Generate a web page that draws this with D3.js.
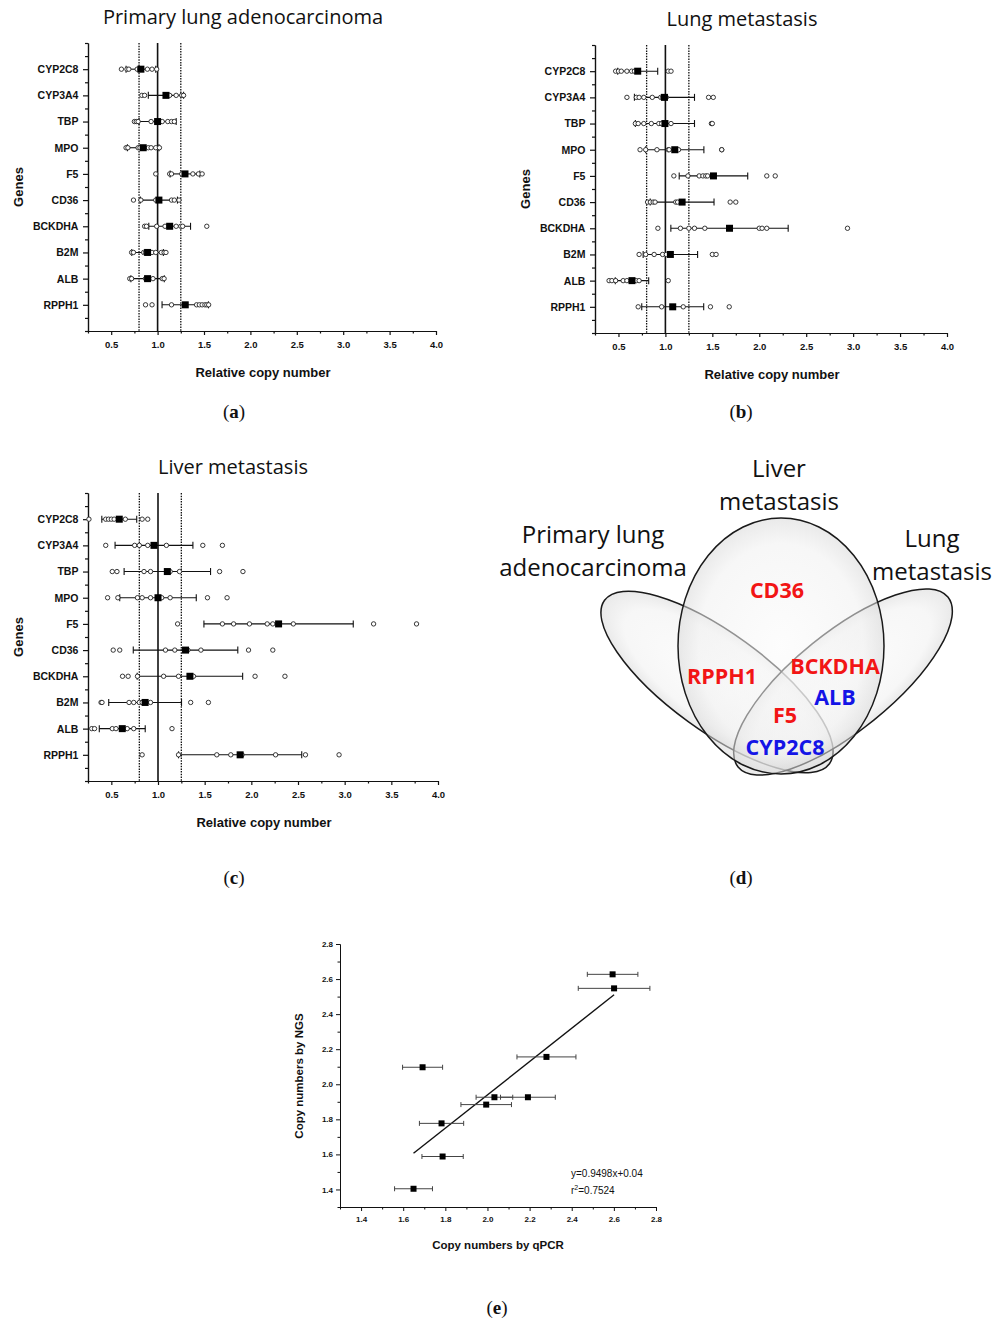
<!DOCTYPE html>
<html>
<head>
<meta charset="utf-8">
<script src="https://cdn.jsdelivr.net/npm/d3@7"></script>
<style>
  body { margin: 0; background: #fff; }
  svg { display: block; }
</style>
</head>
<body>
<svg id="fig" width="1003" height="1319"></svg>
<script>
// ---- data ----
const genes = ["CYP2C8", "CYP3A4", "TBP", "MPO", "F5", "CD36", "BCKDHA", "B2M", "ALB", "RPPH1"]
const copyTicks = [0.5, 1.0, 1.5, 2.0, 2.5, 3.0, 3.5, 4.0]
const thresholds = [0.8, 1.25]

const primaryMean = [0.82, 1.09, 1.0, 0.845, 1.295, 1.014, 1.13, 0.892, 0.892, 1.298]
const primaryErr = [0.16, 0.19, 0.2, 0.17, 0.16, 0.2, 0.225, 0.17, 0.18, 0.25]
const primaryPoints = [
  [0.61, 0.67, 0.69, 0.78, 0.81, 0.89, 0.94, 0.99],
  [0.83, 0.86, 1.13, 1.20, 1.26, 1.28],
  [0.75, 0.77, 0.79, 0.93, 0.99, 1.05, 1.11, 1.15, 1.18],
  [0.66, 0.68, 0.79, 0.81, 0.90, 0.93, 0.98, 1.02],
  [0.98, 1.13, 1.15, 1.26, 1.38, 1.44, 1.48],
  [0.74, 0.82, 0.98, 1.15, 1.18, 1.23],
  [0.86, 0.88, 0.99, 1.08, 1.20, 1.25, 1.27, 1.53],
  [0.72, 0.74, 0.85, 0.87, 0.94, 0.98, 1.04, 1.07, 1.09],
  [0.70, 0.72, 0.87, 0.95, 1.05, 1.07],
  [0.87, 0.94, 1.15, 1.42, 1.45, 1.48, 1.51, 1.53, 1.55]
]

const lungMean = [0.705, 0.99, 0.995, 1.1, 1.512, 1.178, 1.683, 1.053, 0.644, 1.078]
const lungErr = [0.213, 0.32, 0.315, 0.31, 0.365, 0.34, 0.625, 0.29, 0.178, 0.33]
const lungPoints = [
  [0.47, 0.50, 0.53, 0.59, 0.64, 0.67, 1.03, 1.06],
  [0.59, 0.69, 0.72, 0.77, 0.86, 0.95, 0.97, 1.01, 1.46, 1.51],
  [0.68, 0.71, 0.77, 0.85, 0.93, 0.96, 1.06, 1.49, 1.50],
  [0.73, 0.79, 0.91, 1.03, 1.04, 1.12, 1.14, 1.60, 1.60],
  [1.09, 1.24, 1.36, 1.40, 1.43, 1.45, 2.08, 2.17],
  [0.81, 0.84, 0.87, 0.89, 1.11, 1.13, 1.69, 1.75],
  [0.92, 1.16, 1.25, 1.31, 1.42, 2.00, 2.03, 2.08, 2.94],
  [0.72, 0.79, 0.88, 0.97, 1.01, 1.50, 1.54],
  [0.40, 0.43, 0.47, 0.55, 0.59, 0.69, 0.72, 1.03],
  [0.71, 0.96, 1.19, 1.48, 1.68]
]

const liverMean = [0.585, 0.957, 1.1, 1.0, 2.292, 1.295, 1.342, 0.862, 0.617, 1.88]
const liverErr = [0.187, 0.417, 0.463, 0.41, 0.8, 0.56, 0.565, 0.39, 0.246, 0.66]
const liverPoints = [
  [0.26, 0.44, 0.47, 0.50, 0.53, 0.65, 0.83, 0.89],
  [0.44, 0.75, 0.80, 0.89, 1.09, 1.48, 1.69],
  [0.51, 0.56, 0.85, 0.92, 1.13, 1.23, 1.66, 1.91],
  [0.46, 0.57, 0.78, 0.83, 0.92, 1.04, 1.13, 1.53, 1.74],
  [1.21, 1.69, 1.81, 1.98, 2.17, 2.23, 2.45, 3.31, 3.77],
  [0.52, 0.59, 1.08, 1.18, 1.28, 1.32, 1.46, 1.97, 2.23],
  [0.62, 0.68, 0.78, 1.06, 1.22, 1.38, 2.04, 2.36],
  [0.39, 0.40, 0.69, 0.74, 0.80, 0.83, 0.92, 1.35, 1.54],
  [0.29, 0.32, 0.51, 0.55, 0.67, 0.74, 1.15],
  [0.83, 1.22, 1.63, 1.78, 1.90, 2.26, 2.58, 2.94]
]

// venn: which tissue groups each gene falls in, and direction of change
const vennSets = ["Primary lung\nadenocarcinoma", "Liver\nmetastasis", "Lung\nmetastasis"]
const vennGenes = ["CD36", "RPPH1", "BCKDHA", "ALB", "F5", "CYP2C8"]
const vennRegion = ["liver", "primary+liver", "liver+lung", "liver+lung", "all", "all"]
const vennUp = [true, true, true, false, true, false]

// qPCR vs NGS
const qpcr = [1.649, 1.787, 1.782, 1.692, 1.994, 2.033, 2.192, 2.28, 2.601, 2.594]
const qpcrErr = [0.09, 0.098, 0.105, 0.095, 0.12, 0.087, 0.13, 0.14, 0.17, 0.12]
const ngs = [1.404, 1.588, 1.777, 2.097, 1.884, 1.926, 1.926, 2.156, 2.547, 2.627]
const fitSlope = 0.9498
const fitIntercept = 0.04
const fitR2 = 0.7524
const corrTicks = [1.4, 1.6, 1.8, 2.0, 2.2, 2.4, 2.6, 2.8]

// ---- drawing ----
const svg = d3.select("#fig")
const sans = "'Liberation Sans', Arial, sans-serif"
const titleFont = "'Open Sans', 'Noto Sans', sans-serif"

function panelLetter(x, y, letter) {
  let t = svg.append("text")
    .attr("x", x).attr("y", y)
    .attr("text-anchor", "middle")
    .style("font-family", "'Liberation Serif', serif")
    .style("font-size", "19px")
    .style("fill", "#111")
  t.append("tspan").text("(")
  t.append("tspan").style("font-weight", "bold").text(letter)
  t.append("tspan").text(")")
}

function dotPanel(box, title, means, errs, points) {
  let g = svg.append("g")

  let x = d3.scaleLinear().domain([0.25, 4.0]).range([box.left, box.right])
  let y = d3.scaleLinear().domain([0, 11]).range([box.top, box.bottom])

  // reference lines
  g.append("line")
    .attr("x1", x(1)).attr("x2", x(1))
    .attr("y1", box.top).attr("y2", box.bottom)
    .style("stroke", "#111").style("stroke-width", 1.6)
  g.selectAll(".thr")
    .data(thresholds)
    .enter()
    .append("line")
      .attr("x1", d => x(d)).attr("x2", d => x(d))
      .attr("y1", box.top).attr("y2", box.bottom)
      .style("stroke", "#111").style("stroke-width", 1.3)
      .style("stroke-dasharray", "1.5,1.2")

  // axes
  let xMajor = d3.axisBottom(x).tickValues(copyTicks).tickFormat(d3.format(".1f"))
    .tickSize(4).tickSizeOuter(0)
  let xMinor = d3.axisBottom(x).tickValues(d3.range(0.25, 4.01, 0.5)).tickFormat("")
    .tickSize(2.5).tickSizeOuter(0)
  let yMajor = d3.axisLeft(y).tickValues(d3.range(1, 11)).tickFormat(i => genes[i - 1])
    .tickSize(5).tickSizeOuter(0)
  let yMinor = d3.axisLeft(y).tickValues(d3.range(0.5, 11, 1).concat([0, 11])).tickFormat("")
    .tickSize(3).tickSizeOuter(0)

  let gx = g.append("g").attr("transform", `translate(0,${box.bottom})`).call(xMajor)
  g.append("g").attr("transform", `translate(0,${box.bottom})`).call(xMinor)
  let gy = g.append("g").attr("transform", `translate(${box.left},0)`).call(yMajor)
  g.append("g").attr("transform", `translate(${box.left},0)`).call(yMinor)

  g.selectAll(".domain, .tick line").style("stroke", "#111").style("stroke-width", 1.2)
  gx.selectAll("text")
    .attr("dy", "1.05em")
    .style("font-family", sans).style("font-size", "9.5px")
    .style("font-weight", "bold").style("fill", "#111")
  gy.selectAll("text")
    .attr("dx", "-0.15em")
    .style("font-family", sans).style("font-size", "10.5px")
    .style("font-weight", "bold").style("fill", "#111")

  // error bars
  let bars = g.append("g")
    .selectAll("g")
    .data(genes)
    .enter()
    .append("g")
  bars.append("line")
    .attr("x1", (d, i) => x(means[i] - errs[i]))
    .attr("x2", (d, i) => x(means[i] + errs[i]))
    .attr("y1", (d, i) => y(i + 1)).attr("y2", (d, i) => y(i + 1))
    .style("stroke", "#111").style("stroke-width", 1.1)
  bars.selectAll(".cap")
    .data((d, i) => [means[i] - errs[i], means[i] + errs[i]].map(v => ({ v: v, i: i })))
    .enter()
    .append("line")
      .attr("x1", d => x(d.v)).attr("x2", d => x(d.v))
      .attr("y1", d => y(d.i + 1) - 3.5).attr("y2", d => y(d.i + 1) + 3.5)
      .style("stroke", "#111").style("stroke-width", 1.1)

  // individual samples
  let pts = []
  points.forEach((row, i) => row.forEach(v => pts.push({ v: v, i: i })))
  g.append("g")
    .selectAll("circle")
    .data(pts)
    .enter()
    .append("circle")
      .attr("cx", d => x(d.v))
      .attr("cy", d => y(d.i + 1))
      .attr("r", 2.2)
      .style("fill", "#fff")
      .style("stroke", "#222")
      .style("stroke-width", 0.9)

  // means
  g.append("g")
    .selectAll("rect")
    .data(means)
    .enter()
    .append("rect")
      .attr("x", d => x(d) - 3.5)
      .attr("y", (d, i) => y(i + 1) - 3.5)
      .attr("width", 7).attr("height", 7)
      .style("fill", "#000")

  // labels
  g.append("text")
    .attr("x", box.titleX)
    .attr("y", box.top - 19)
    .attr("text-anchor", "middle")
    .style("font-family", titleFont).style("font-size", "20px").style("fill", "#111")
    .text(title)

  g.append("text")
    .attr("transform", `translate(${box.left - 65},${(box.top + box.bottom) / 2}) rotate(-90)`)
    .attr("text-anchor", "middle")
    .style("font-family", sans).style("font-size", "13px")
    .style("font-weight", "bold").style("fill", "#111")
    .text("Genes")

  g.append("text")
    .attr("x", (box.left + box.right) / 2 + 1)
    .attr("y", box.bottom + 46)
    .attr("text-anchor", "middle")
    .style("font-family", sans).style("font-size", "13px")
    .style("font-weight", "bold").style("fill", "#111")
    .text("Relative copy number")
}

dotPanel({ left: 88, right: 436, top: 43, bottom: 331, titleX: 243 }, "Primary lung adenocarcinoma",
  primaryMean, primaryErr, primaryPoints)
dotPanel({ left: 595, right: 947, top: 45, bottom: 333, titleX: 742 }, "Lung metastasis",
  lungMean, lungErr, lungPoints)
dotPanel({ left: 88, right: 438, top: 493, bottom: 781, titleX: 233 }, "Liver metastasis",
  liverMean, liverErr, liverPoints)

panelLetter(234, 418, "a")
panelLetter(741, 418, "b")
panelLetter(234, 884, "c")
panelLetter(741, 884, "d")
panelLetter(497, 1314, "e")

// ---- venn (d) ----
let defs = svg.append("defs")
let grad = defs.append("radialGradient").attr("id", "vennFill")
grad.append("stop").attr("offset", "0%").attr("stop-color", "#fbfbfb")
grad.append("stop").attr("offset", "80%").attr("stop-color", "#f0f0f0")
grad.append("stop").attr("offset", "100%").attr("stop-color", "#d8d8d8")

let venn = svg.append("g")
let shapes = [
  { cx: 717, cy: 682, rx: 139, ry: 49, rot: 36 },
  { cx: 843, cy: 682, rx: 135, ry: 49, rot: -39 },
  { cx: 781, cy: 646, rx: 103, ry: 128, rot: 0 }
]
venn.selectAll("ellipse")
  .data(shapes)
  .enter()
  .append("ellipse")
    .attr("transform", d => `translate(${d.cx},${d.cy}) rotate(${d.rot})`)
    .attr("rx", d => d.rx).attr("ry", d => d.ry)
    .style("fill", "url(#vennFill)")
    .style("fill-opacity", 0.55)
    .style("stroke", "#1a1a1a")
    .style("stroke-width", 1.5)

let setPos = [[593, 543], [779, 477], [932, 547]]
vennSets.forEach((s, k) => {
  let t = venn.append("text")
    .attr("x", setPos[k][0]).attr("y", setPos[k][1])
    .attr("text-anchor", "middle")
    .style("font-family", titleFont).style("font-size", "24px").style("fill", "#111")
  s.split("\n").forEach((line, j) => {
    t.append("tspan").attr("x", setPos[k][0]).attr("dy", j === 0 ? 0 : 33).text(line)
  })
})

let regionPos = {
  "liver": [[777, 598]],
  "primary+liver": [[722, 684]],
  "liver+lung": [[835, 674], [835, 705]],
  "all": [[785, 723], [785, 755]]
}
let regionUsed = {}
venn.selectAll(".vg")
  .data(vennGenes)
  .enter()
  .append("text")
    .attr("x", (d, i) => regionPos[vennRegion[i]][0][0])
    .attr("y", (d, i) => {
      let r = vennRegion[i]
      regionUsed[r] = (regionUsed[r] || 0)
      return regionPos[r][regionUsed[r]++][1]
    })
    .attr("text-anchor", "middle")
    .style("font-family", titleFont).style("font-size", "21.5px")
    .style("font-weight", "bold")
    .style("fill", (d, i) => vennUp[i] ? "#f21515" : "#1414e6")
    .text(d => d)

// ---- qPCR vs NGS (e) ----
let ex = d3.scaleLinear().domain([1.3, 2.8]).range([340, 656])
let ey = d3.scaleLinear().domain([1.3, 2.8]).range([1207, 944])
let ge = svg.append("g")

let exMajor = d3.axisBottom(ex).tickValues(corrTicks).tickFormat(d3.format(".1f")).tickSize(4).tickSizeOuter(0)
let exMinor = d3.axisBottom(ex).tickValues(d3.range(1.3, 2.81, 0.2)).tickFormat("").tickSize(2.5).tickSizeOuter(0)
let eyMajor = d3.axisLeft(ey).tickValues(corrTicks).tickFormat(d3.format(".1f")).tickSize(4).tickSizeOuter(0)
let eyMinor = d3.axisLeft(ey).tickValues(d3.range(1.3, 2.81, 0.2)).tickFormat("").tickSize(2.5).tickSizeOuter(0)

let egx = ge.append("g").attr("transform", "translate(0,1207)").call(exMajor)
ge.append("g").attr("transform", "translate(0,1207)").call(exMinor)
let egy = ge.append("g").attr("transform", "translate(340,0)").call(eyMajor)
ge.append("g").attr("transform", "translate(340,0)").call(eyMinor)
ge.selectAll(".domain, .tick line").style("stroke", "#111").style("stroke-width", 1)
ge.selectAll(".tick text")
  .style("font-family", sans).style("font-size", "8px")
  .style("font-weight", "bold").style("fill", "#111")
egx.selectAll("text").attr("dy", "0.95em")

// fit line over the qPCR range
let fitX = d3.extent(qpcr)
ge.append("line")
  .attr("x1", ex(fitX[0])).attr("y1", ey(fitSlope * fitX[0] + fitIntercept))
  .attr("x2", ex(fitX[1])).attr("y2", ey(fitSlope * fitX[1] + fitIntercept))
  .style("stroke", "#111").style("stroke-width", 1.4)

let eb = ge.append("g").selectAll("g").data(qpcr).enter().append("g")
eb.append("line")
  .attr("x1", (d, i) => ex(d - qpcrErr[i])).attr("x2", (d, i) => ex(d + qpcrErr[i]))
  .attr("y1", (d, i) => ey(ngs[i])).attr("y2", (d, i) => ey(ngs[i]))
  .style("stroke", "#444").style("stroke-width", 1)
eb.selectAll(".cap")
  .data((d, i) => [d - qpcrErr[i], d + qpcrErr[i]].map(v => ({ v: v, i: i })))
  .enter()
  .append("line")
    .attr("x1", d => ex(d.v)).attr("x2", d => ex(d.v))
    .attr("y1", d => ey(ngs[d.i]) - 2.5).attr("y2", d => ey(ngs[d.i]) + 2.5)
    .style("stroke", "#444").style("stroke-width", 1)
eb.append("rect")
  .attr("x", d => ex(d) - 3).attr("y", (d, i) => ey(ngs[i]) - 3)
  .attr("width", 6).attr("height", 6)
  .style("fill", "#000")

ge.append("text")
  .attr("x", 571).attr("y", 1177)
  .style("font-family", sans).style("font-size", "10px").style("fill", "#111")
  .text(`y=${fitSlope}x+${fitIntercept}`)
let r2 = ge.append("text")
  .attr("x", 571).attr("y", 1194)
  .style("font-family", sans).style("font-size", "10px").style("fill", "#111")
r2.append("tspan").text("r")
r2.append("tspan").attr("dy", -4).style("font-size", "7px").text("2")
r2.append("tspan").attr("dy", 4).text(`=${fitR2}`)

ge.append("text")
  .attr("transform", "translate(303,1076) rotate(-90)")
  .attr("text-anchor", "middle")
  .style("font-family", sans).style("font-size", "11.5px")
  .style("font-weight", "bold").style("fill", "#111")
  .text("Copy numbers by NGS")
ge.append("text")
  .attr("x", 498).attr("y", 1249)
  .attr("text-anchor", "middle")
  .style("font-family", sans).style("font-size", "11.5px")
  .style("font-weight", "bold").style("fill", "#111")
  .text("Copy numbers by qPCR")
</script>
</body>
</html>
